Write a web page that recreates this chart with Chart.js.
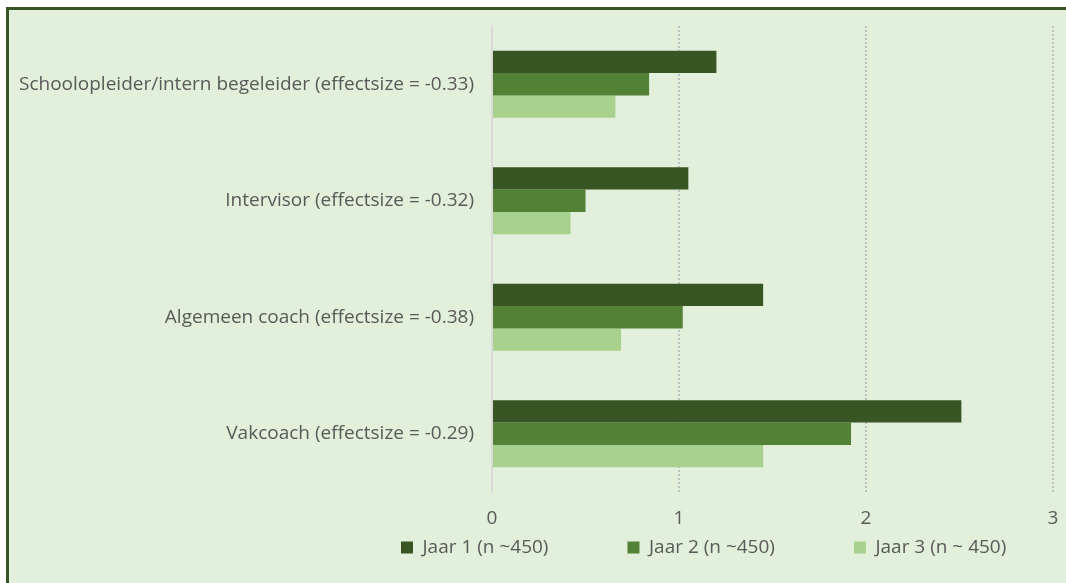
<!DOCTYPE html>
<html>
<head>
<meta charset="utf-8">
<title>Begeleiding per jaar</title>
<script src="https://cdn.jsdelivr.net/npm/chart.js@4/dist/chart.umd.min.js"></script>
<style>
  html, body { margin: 0; padding: 0; background: #fff; overflow: hidden; }
  #frame {
    position: absolute; left: 6px; top: 7px;
    width: 1057px; height: 573px;
    background: #E2EFDA;
    border-top: 3px solid #375623;
    border-left: 3px solid #375623;
  }
  #chart { display: block; }
</style>
</head>
<body>
<div id="frame">
  <canvas id="chart" width="1057" height="573"></canvas>
</div>
<script>
// Categories (top to bottom) and the three yearly series
const categories = [
    'Schoolopleider/intern begeleider (effectsize = -0.33)',
    'Intervisor (effectsize = -0.32)',
    'Algemeen coach (effectsize = -0.38)',
    'Vakcoach (effectsize = -0.29)'
];
const seriesNames = ['Jaar 1 (n ~450)', 'Jaar 2 (n ~450)', 'Jaar 3 (n ~ 450)'];
const jaar1 = [1.20, 1.05, 1.45, 2.51];
const jaar2 = [0.84, 0.50, 1.02, 1.92];
const jaar3 = [0.66, 0.42, 0.69, 1.45];
const xTicks = [0, 1, 2, 3];

const colors = ['#375623', '#538135', '#A9D18E'];
const textColor = '#595959';
const fontFamily = '"Open Sans", Lato, sans-serif';
const fontSize = 19;

// Legend sits left of centre, just under the axis labels
const LEGEND_PAD = 79;
const LEGEND_X = 392;
const LEGEND_Y = 528;
const legendPlacer = {
    id: 'legendPlacer',
    afterLayout(chart) {
        const lg = chart.legend;
        lg.left = LEGEND_X - LEGEND_PAD;
        lg.right = chart.width + 300;
        lg.top = LEGEND_Y - LEGEND_PAD;
        lg.bottom = chart.height;
    }
};

const ctx = document.getElementById('chart').getContext('2d');
new Chart(ctx, {
    type: 'bar',
    data: {
        labels: categories,
        datasets: [jaar1, jaar2, jaar3].map((values, i) => ({
            label: seriesNames[i],
            data: values,
            backgroundColor: colors[i],
            borderWidth: 0,
            categoryPercentage: 0.574,
            barPercentage: 1
        }))
    },
    options: {
        indexAxis: 'y',
        responsive: false,
        animation: false,
        layout: { padding: { top: 16, right: 13, left: 0, bottom: 0 } },
        plugins: {
            tooltip: { enabled: false },
            legend: {
                position: 'bottom',
                align: 'start',
                maxHeight: 40,
                labels: {
                    boxWidth: 12,
                    boxHeight: 12,
                    padding: LEGEND_PAD,
                    color: textColor,
                    font: { family: fontFamily, size: fontSize }
                }
            }
        },
        scales: {
            x: {
                min: 0,
                max: 3,
                afterBuildTicks: s => { s.ticks = xTicks.map(v => ({ value: v })); },
                afterFit: s => {
                    s.height = 51;
                    s.paddingLeft = 0;
                    s.paddingRight = 0;
                },
                ticks: {
                    color: textColor,
                    padding: 15,
                    font: { family: fontFamily, size: fontSize }
                },
                grid: {
                    color: c => (c.tick && c.tick.value === 0) ? 'rgba(0,0,0,0)' : '#BFBFBF',
                    lineWidth: 2,
                    drawTicks: false
                },
                border: { display: false, dash: [2, 2] }
            },
            y: {
                afterFit: s => {
                    s.width = 483;
                    s.paddingTop = 0;
                    s.paddingBottom = 0;
                },
                grid: { display: false, drawTicks: false },
                border: { color: '#D9D9D9', width: 2 },
                ticks: {
                    color: textColor,
                    padding: 18,
                    font: { family: fontFamily, size: fontSize }
                }
            }
        }
    },
    plugins: [legendPlacer]
});
</script>
</body>
</html>
